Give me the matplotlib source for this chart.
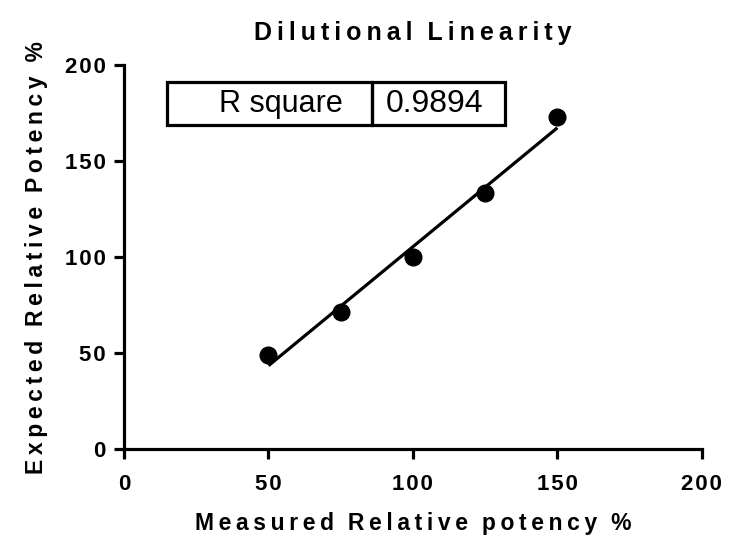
import numpy as np
import matplotlib
matplotlib.use("Agg")
import matplotlib.pyplot as plt
from matplotlib.patches import Rectangle

# data
measured = [50, 75, 100, 125, 150]
expected = [49, 71.5, 100, 133.5, 173]
r_square = "0.9894"
ticks = [0, 50, 100, 150, 200]

plt.rcParams['font.family'] = ['Liberation Sans', 'DejaVu Sans']


def spaced(s, gap='\u2009', word_gap='\u2009\u2009\u2009'):
    # Prism-like letter spacing
    return word_gap.join(gap.join(w) for w in s.split(' '))


fig = plt.figure(figsize=(7.38, 5.39), dpi=100)
ax = fig.add_axes([0.168, 0.167, 0.783, 0.712])

slope, icpt = np.polyfit(measured, expected, 1)
xs = np.array([min(measured), max(measured)])
ax.plot(xs, slope * xs + icpt, color='black', lw=2.3, solid_capstyle='butt')
ax.plot(measured, expected, 'o', color='black', ms=12)

ax.set_xlim(0, 200)
ax.set_ylim(0, 200)
ax.set_xticks(ticks)
ax.set_yticks(ticks)
ax.set_xticklabels([spaced(str(t), '\u200a') for t in ticks])
ax.set_yticklabels([spaced(str(t), '\u200a') for t in ticks])
for s in ['top', 'right']:
    ax.spines[s].set_visible(False)
for s in ['left', 'bottom']:
    ax.spines[s].set_linewidth(2.3)
ax.tick_params(axis='both', width=2.3, length=7, labelsize=16)
ax.tick_params(axis='x', pad=11)
ax.tick_params(axis='y', pad=6)
for lab in ax.get_xticklabels() + ax.get_yticklabels():
    lab.set_fontweight('bold')

ax.set_xlabel(spaced('Measured Relative potency %'), fontsize=16.5, fontweight='bold', labelpad=12)
ax.set_ylabel(spaced('Expected Relative Potency %'), fontsize=16.5, fontweight='bold', labelpad=12)
ax.set_title(spaced('Dilutional Linearity'), fontsize=18, fontweight='bold', pad=18)

# R square box
x0, x1, xd = 0.0744, 0.659, 0.429
y0, y1 = 0.844, 0.956
for a, b in [(x0, xd), (xd, x1)]:
    ax.add_patch(Rectangle((a, y0), b - a, y1 - y0, transform=ax.transAxes,
                           fill=False, lw=2.3, ec='black', clip_on=False))
ax.text(0.379, (y0 + y1) / 2, 'R square', transform=ax.transAxes,
        ha='right', va='center', fontsize=22)
ax.text(0.538, (y0 + y1) / 2, r_square, transform=ax.transAxes,
        ha='center', va='center', fontsize=23)

fig.savefig('out.png', dpi=100)
